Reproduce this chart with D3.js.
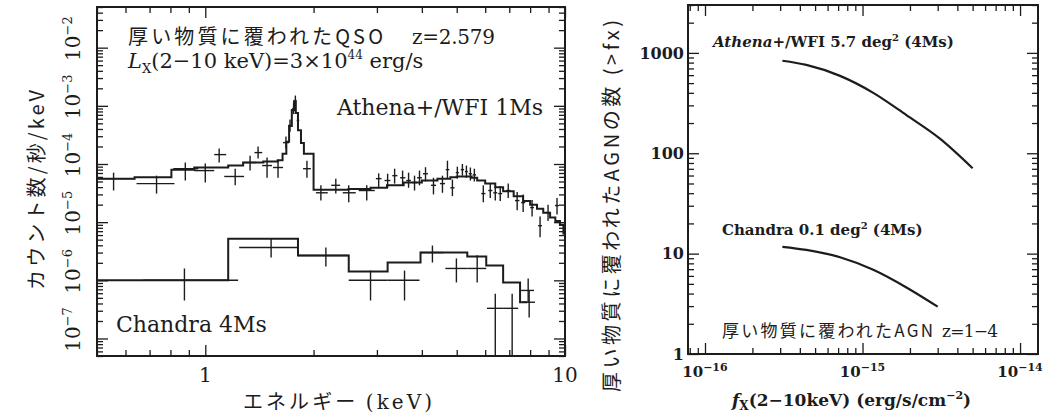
<!DOCTYPE html>
<html>
<head>
<meta charset="utf-8">
<script src="https://cdn.jsdelivr.net/npm/d3@7"></script>
<style>
  body { margin: 0; background: #fff; }
  svg { display: block; }
</style>
</head>
<body>
<svg id="fig" width="1048" height="417"></svg>
<script>
// ---------------- data: left panel (counts/s/keV vs keV) ----------------
// model histograms: left bin edge and value, last edge separate
var athenaModelE = [0.5, 0.636, 0.805, 0.932, 1.158, 1.274, 1.45, 1.59, 1.64, 1.68, 1.71, 1.74, 1.765, 1.785, 1.81, 1.845, 1.88,
                    2.0, 2.2, 2.5, 2.88, 3.2, 3.56, 4.0, 4.42, 4.8, 5.0, 5.5, 5.7, 6.0, 6.4, 6.73, 7.2, 7.65, 8.0, 8.36, 8.7, 9.09, 9.4, 9.68, 9.9];
var athenaModelY = [5.6e-5, 5.9e-5, 8.0e-5, 8.7e-5, 9.4e-5, 1.06e-4, 1.1e-4, 1.16e-4, 1.5e-4, 2.4e-4, 4.5e-4, 8.5e-4, 1.2e-3, 7.5e-4, 3.8e-4, 2.3e-4, 1.5e-4,
                    3.6e-5, 3.6e-5, 3.7e-5, 3.9e-5, 4.3e-5, 4.8e-5, 5.2e-5, 5.6e-5, 5.9e-5, 6.1e-5, 5.8e-5, 5.2e-5, 4.6e-5, 4.0e-5, 3.4e-5, 2.8e-5, 2.3e-5, 2.0e-5, 1.7e-5, 1.45e-5, 1.2e-5, 1.05e-5, 9.0e-6, 6.4e-6];
var athenaModelEnd = 10;

// data points: [E, Elo, Ehi, rate, rateLo, rateHi]
var athenaPts = [
  [0.556, 0.505, 0.636, 5.6e-5, 3.5e-5, 7.1e-5],
  [0.732, 0.644, 0.821, 4.6e-5, 3.1e-5, 6.3e-5],
  [0.880, 0.815, 0.956, 8.3e-5, 5.2e-5, 1.06e-4],
  [1.0, 0.932, 1.059, 7.7e-5, 4.8e-5, 1.02e-4],
  [1.093, 1.059, 1.143, 1.45e-4, 1.06e-4, 1.84e-4],
  [1.211, 1.129, 1.282, 6.1e-5, 4.3e-5, 8.3e-5],
  [1.332, 1.282, 1.385, 1.06e-4, 7.7e-5, 1.39e-4],
  [1.402, 1.37, 1.44, 1.57e-4, 1.24e-4, 1.99e-4],
  [1.485, 1.439, 1.533, 9.4e-5, 5.8e-5, 1.29e-4],
  [1.593, 1.543, 1.645, 8.7e-5, 5.8e-5, 1.14e-4],
  [1.676, 1.645, 1.709, 2.33e-4, 1.84e-4, 2.96e-4],
  [1.72, 1.70, 1.74, 4.6e-4, 3.6e-4, 5.8e-4],
  [1.76, 1.745, 1.775, 9.0e-4, 7.2e-4, 1.1e-3],
  [1.78, 1.77, 1.79, 1.25e-3, 1.0e-3, 1.5e-3],
  [1.81, 1.795, 1.825, 5.6e-4, 4.4e-4, 7.0e-4],
  [1.917, 1.87, 1.966, 8.3e-5, 5.8e-5, 1.14e-4],
  [2.096, 2.03, 2.19, 3.2e-5, 2.35e-5, 4.3e-5],
  [2.306, 2.24, 2.37, 4.3e-5, 3.1e-5, 5.6e-5],
  [2.505, 2.41, 2.62, 3.2e-5, 2.2e-5, 4.3e-5],
  [2.811, 2.67, 2.96, 3.5e-5, 2.35e-5, 4.3e-5],
  [3.034, 2.98, 3.09, 5.6e-5, 3.9e-5, 6.9e-5],
  [3.213, 3.15, 3.27, 5.2e-5, 3.9e-5, 6.8e-5],
  [3.36, 3.31, 3.42, 6.3e-5, 4.6e-5, 8.3e-5],
  [3.536, 3.48, 3.6, 5.8e-5, 4.3e-5, 7.7e-5],
  [3.674, 3.62, 3.73, 5.2e-5, 3.9e-5, 7.1e-5],
  [3.817, 3.76, 3.88, 4.8e-5, 3.5e-5, 6.3e-5],
  [3.94, 3.88, 4.0, 5.8e-5, 4.3e-5, 7.7e-5],
  [4.095, 4.03, 4.16, 6.8e-5, 5.0e-5, 8.8e-5],
  [4.309, 4.24, 4.38, 4.3e-5, 3.0e-5, 5.8e-5],
  [4.564, 4.49, 4.64, 4.6e-5, 3.2e-5, 6.3e-5],
  [4.712, 4.66, 4.77, 8.0e-5, 5.6e-5, 1.14e-4],
  [4.864, 4.80, 4.93, 3.9e-5, 2.8e-5, 5.4e-5],
  [5.02, 4.97, 5.07, 7.1e-5, 5.6e-5, 9.0e-5],
  [5.185, 5.13, 5.24, 8.0e-5, 6.3e-5, 1.0e-4],
  [5.32, 5.27, 5.37, 7.4e-5, 5.8e-5, 9.4e-5],
  [5.457, 5.40, 5.51, 6.8e-5, 5.2e-5, 8.7e-5],
  [5.598, 5.54, 5.66, 6.5e-5, 5.0e-5, 8.3e-5],
  [5.928, 5.85, 6.01, 3.1e-5, 2.2e-5, 4.3e-5],
  [6.198, 6.12, 6.28, 3.5e-5, 2.6e-5, 4.6e-5],
  [6.4, 6.32, 6.48, 3.2e-5, 2.35e-5, 4.3e-5],
  [6.607, 6.52, 6.69, 3.1e-5, 2.3e-5, 4.2e-5],
  [6.953, 6.86, 7.05, 3.5e-5, 2.6e-5, 4.6e-5],
  [7.362, 7.26, 7.47, 2.35e-5, 1.6e-5, 3.3e-5],
  [7.65, 7.55, 7.75, 2.17e-5, 1.5e-5, 3.0e-5],
  [8.1, 8.0, 8.2, 1.78e-5, 1.25e-5, 2.4e-5],
  [8.525, 8.42, 8.63, 8.7e-6, 5.5e-6, 1.25e-5],
  [8.972, 8.86, 9.08, 1.46e-5, 1.05e-5, 2.0e-5],
  [9.502, 9.38, 9.62, 1.93e-5, 1.35e-5, 2.6e-5]
];

var chandraModelE = [0.5, 1.158, 1.81, 2.505, 3.213, 3.966, 5.35, 6.04, 6.73, 7.5];
var chandraModelY = [1.0e-6, 5.2e-6, 2.67e-6, 1.42e-6, 2.02e-6, 3.0e-6, 2.57e-6, 1.8e-6, 9.2e-7, 4.2e-7];
var chandraModelEnd = 7.85;

var chandraPts = [
  [0.875, 0.673, 1.234, 1.0e-6, 4.5e-7, 1.6e-6],
  [1.524, 1.242, 1.81, 3.67e-6, 2.47e-6, 5.2e-6],
  [2.164, 1.81, 2.505, 2.67e-6, 1.72e-6, 3.67e-6],
  [2.88, 2.505, 3.213, 1.0e-6, 4.5e-7, 1.47e-6],
  [3.58, 3.213, 3.94, 1.0e-6, 4.5e-7, 1.47e-6],
  [4.28, 3.966, 4.59, 3.0e-6, 2.02e-6, 3.96e-6],
  [4.99, 4.65, 5.35, 1.6e-6, 9.2e-7, 2.38e-6],
  [5.70, 5.35, 6.04, 1.6e-6, 9.2e-7, 2.7e-6],
  [6.4, 6.07, 6.73, 3.3e-7, 1e-9, 5.9e-7],
  [7.13, 6.73, 7.41, 3.3e-7, 1e-9, 5.9e-7],
  [7.9, 7.55, 8.2, 6.7e-7, 4.2e-7, 1.07e-6],
  [7.95, 7.6, 8.25, 4.2e-7, 2.3e-7, 6.7e-7]
];

var specYLabels = [1e-7, 1e-6, 1e-5, 1e-4, 1e-3, 1e-2];
var specXLabels = [1, 10];

// ---------------- data: right panel (number of AGN above flux) ----------------
var fluxAthena = [3.1e-16, 4.4e-16, 7.2e-16, 1.17e-15, 1.9e-15, 3.1e-15, 5.0e-15];
var numAthena  = [835, 760, 590, 400, 240, 140, 71];
var fluxChandra = [3.1e-16, 4.4e-16, 7.2e-16, 1.17e-15, 1.9e-15, 3.0e-15];
var numChandra  = [11.7, 10.9, 9.2, 6.9, 4.6, 2.96];

var countYLabels = [1, 10, 100, 1000];
var fluxXLabels = [1e-16, 1e-15, 1e-14];

// ---------------- setup ----------------
var ink = "#1c1c1c";
var serif = "'DejaVu Serif', serif";
var cjk = "'Noto Sans CJK JP', sans-serif";
var svg = d3.select("#fig");

function logTicks(d0, d1) {
  var maj = [], min = [];
  for (var p = Math.floor(Math.log10(d0)); p <= Math.ceil(Math.log10(d1)); p++) {
    for (var k = 1; k < 10; k++) {
      var v = +(k + "e" + p);
      if (v >= d0 * 0.9999 && v <= d1 * 1.0001) (k === 1 ? maj : min).push(v);
    }
  }
  return { major: maj, minor: min };
}

// inward ticks on all four sides, drawn with d3 axes
function frameTicks(g, x, y, box, majLen, minLen) {
  var tx = logTicks(x.domain()[0], x.domain()[1]);
  var ty = logTicks(y.domain()[0], y.domain()[1]);
  var sets = [
    [d3.axisBottom(x), "translate(0," + box.bottom + ")", tx],
    [d3.axisTop(x), "translate(0," + box.top + ")", tx],
    [d3.axisLeft(y), "translate(" + box.left + ",0)", ty],
    [d3.axisRight(y), "translate(" + box.right + ",0)", ty]
  ];
  sets.forEach(function(s) {
    [[s[2].major, majLen], [s[2].minor, minLen]].forEach(function(t) {
      var ax = s[0].tickValues(t[0]).tickSize(-t[1]).tickFormat("");
      var a = g.append("g").attr("transform", s[1]).call(ax);
      a.select(".domain").remove();
      a.selectAll("line").attr("stroke", ink).attr("stroke-width", 1.3);
    });
  });
  g.append("rect")
    .attr("x", box.left).attr("y", box.top)
    .attr("width", box.right - box.left).attr("height", box.bottom - box.top)
    .attr("fill", "none").attr("stroke", ink).attr("stroke-width", 2);
}

// ================= left panel =================
var L = { left: 97, right: 565, top: 7, bottom: 356 };
var xE = d3.scaleLog().domain([0.5, 10]).range([L.left, L.right]);
var yC = d3.scaleLog().domain([5e-8, 5e-2]).range([L.bottom, L.top]);

var gl = svg.append("g");
gl.append("clipPath").attr("id", "clipL").append("rect")
  .attr("x", L.left).attr("y", L.top).attr("width", L.right - L.left).attr("height", L.bottom - L.top);

var step = d3.line().curve(d3.curveStepAfter)
  .x(function(d) { return xE(d[0]); })
  .y(function(d) { return yC(d[1]); });

function modelPts(es, ys, end) {
  var pts = es.map(function(e, i) { return [e, ys[i]]; });
  pts.push([end, ys[ys.length - 1]]);
  return pts;
}

var plotL = gl.append("g").attr("clip-path", "url(#clipL)");
[[athenaModelE, athenaModelY, athenaModelEnd], [chandraModelE, chandraModelY, chandraModelEnd]].forEach(function(m) {
  plotL.append("path")
    .attr("d", step(modelPts(m[0], m[1], m[2])))
    .attr("fill", "none").attr("stroke", ink).attr("stroke-width", 2);
});

function crosses(pts) {
  var g = plotL.append("g").attr("stroke", ink).attr("stroke-width", 1.4);
  g.selectAll("line.h").data(pts).enter().append("line").attr("class", "h")
    .attr("x1", function(d) { return xE(d[1]); }).attr("x2", function(d) { return xE(d[2]); })
    .attr("y1", function(d) { return yC(d[3]); }).attr("y2", function(d) { return yC(d[3]); });
  g.selectAll("line.v").data(pts).enter().append("line").attr("class", "v")
    .attr("x1", function(d) { return xE(d[0]); }).attr("x2", function(d) { return xE(d[0]); })
    .attr("y1", function(d) { return yC(d[4]); }).attr("y2", function(d) { return yC(d[5]); });
}
crosses(athenaPts);
crosses(chandraPts);

frameTicks(gl, xE, yC, L, 11, 6);

// tick labels
gl.selectAll("text.xl").data(specXLabels).enter().append("text")
  .attr("x", function(d) { return xE(d); }).attr("y", 382)
  .attr("text-anchor", "middle").attr("font-family", serif).attr("font-size", 20).attr("fill", ink)
  .text(function(d) { return d; });

specYLabels.forEach(function(v) {
  var t = gl.append("text")
    .attr("transform", "translate(80," + (yC(v) - 9) + ") rotate(-90)")
    .attr("text-anchor", "middle").attr("font-family", serif).attr("font-size", 20).attr("fill", ink);
  t.append("tspan").text("10");
  t.append("tspan").attr("dy", -8).attr("font-size", 13).text("\u2212" + (-Math.round(Math.log10(v))));
});

// annotations
gl.append("text").attr("x", 128).attr("y", 44).attr("font-family", cjk).attr("font-size", 20)
  .attr("fill", ink).attr("textLength", 255).text("厚い物質に覆われたQSO");
gl.append("text").attr("x", 412).attr("y", 44).attr("font-family", serif).attr("font-size", 20)
  .attr("fill", ink).attr("textLength", 83).text("z=2.579");

var lx = gl.append("text").attr("x", 128).attr("y", 68).attr("font-family", serif).attr("font-size", 21).attr("fill", ink);
lx.append("tspan").attr("font-style", "italic").text("L");
lx.append("tspan").attr("dy", 5).attr("font-size", 13).text("X");
lx.append("tspan").attr("dy", -5).text("(2\u221210 keV)=3\u00d710");
lx.append("tspan").attr("dy", -9).attr("font-size", 12).text("44");
lx.append("tspan").attr("dy", 9).text(" erg/s");

gl.append("text").attr("x", 543).attr("y", 115).attr("text-anchor", "end").attr("font-family", serif)
  .attr("font-size", 22).attr("fill", ink).text("Athena+/WFI 1Ms");
gl.append("text").attr("x", 116).attr("y", 332).attr("font-family", serif)
  .attr("font-size", 22).attr("fill", ink).text("Chandra 4Ms");

// axis titles
var xt = gl.append("text").attr("x", 243).attr("y", 409).attr("font-family", cjk).attr("font-size", 20)
  .attr("fill", ink).attr("textLength", 189);
xt.append("tspan").text("エネルギー ");
xt.append("tspan").attr("font-family", serif).text("(keV)");

gl.append("text").attr("transform", "translate(44,190) rotate(-90)").attr("text-anchor", "middle")
  .attr("font-family", cjk).attr("font-size", 20).attr("fill", ink).attr("textLength", 200)
  .text("カウント数/秒/keV");

// ================= right panel =================
var R = { left: 688, right: 1038, top: 5, bottom: 354 };
var xF = d3.scaleLog().domain([7.8e-17, 1.3e-14]).range([R.left, R.right]);
var yN = d3.scaleLog().domain([1, 3000]).range([R.bottom, R.top]);

var gr = svg.append("g");
var curve = d3.line().curve(d3.curveMonotoneX)
  .x(function(d) { return xF(d[0]); })
  .y(function(d) { return yN(d[1]); });

[[fluxAthena, numAthena], [fluxChandra, numChandra]].forEach(function(c) {
  gr.append("path")
    .attr("d", curve(c[0].map(function(f, i) { return [f, c[1][i]]; })))
    .attr("fill", "none").attr("stroke", ink).attr("stroke-width", 2.2);
});

frameTicks(gr, xF, yN, R, 11, 6);

gr.selectAll("text.yl").data(countYLabels).enter().append("text")
  .attr("x", 684).attr("y", function(d) { return yN(d); }).attr("dy", "0.36em")
  .attr("text-anchor", "end").attr("font-family", serif).attr("font-weight", "bold")
  .attr("font-size", 16).attr("fill", ink).text(function(d) { return d; });

fluxXLabels.forEach(function(v) {
  var t = gr.append("text").attr("x", xF(v)).attr("y", 377).attr("text-anchor", "middle")
    .attr("font-family", serif).attr("font-weight", "bold").attr("font-size", 15).attr("fill", ink);
  t.append("tspan").text("10");
  t.append("tspan").attr("dy", -6).attr("font-size", 11).text("\u2212" + (-Math.round(Math.log10(v))));
});

var la = gr.append("text").attr("x", 713).attr("y", 47).attr("font-family", serif)
  .attr("font-weight", "bold").attr("font-size", 15).attr("fill", ink);
la.append("tspan").attr("font-style", "italic").text("Athena");
la.append("tspan").text("+/WFI 5.7 deg");
la.append("tspan").attr("dy", -6).attr("font-size", 10).text("2");
la.append("tspan").attr("dy", 6).text(" (4Ms)");

var lc = gr.append("text").attr("x", 722).attr("y", 235).attr("font-family", serif)
  .attr("font-weight", "bold").attr("font-size", 15).attr("fill", ink);
lc.append("tspan").text("Chandra 0.1 deg");
lc.append("tspan").attr("dy", -6).attr("font-size", 10).text("2");
lc.append("tspan").attr("dy", 6).text(" (4Ms)");

gr.append("text").attr("x", 722).attr("y", 337).attr("font-family", cjk).attr("font-size", 17)
  .attr("fill", ink).attr("textLength", 211).text("厚い物質に覆われたAGN");
gr.append("text").attr("x", 942).attr("y", 337).attr("font-family", serif).attr("font-size", 17)
  .attr("fill", ink).attr("textLength", 56).text("z=1\u22124");

var fx = gr.append("text").attr("x", 732).attr("y", 406).attr("font-family", serif)
  .attr("font-weight", "bold").attr("font-size", 17).attr("fill", ink);
fx.append("tspan").attr("font-style", "italic").text("f");
fx.append("tspan").attr("dy", 4).attr("font-size", 12).text("X");
fx.append("tspan").attr("dy", -4).text("(2\u221210keV) (erg/s/cm");
fx.append("tspan").attr("dy", -7).attr("font-size", 11).text("\u22122");
fx.append("tspan").attr("dy", 7).text(")");

gr.append("text").attr("transform", "translate(619,206) rotate(-90)").attr("text-anchor", "middle")
  .attr("font-family", cjk).attr("font-size", 20).attr("fill", ink).attr("textLength", 372)
  .text("厚い物質に覆われたAGNの数 (>fx)");
</script>
</body>
</html>
